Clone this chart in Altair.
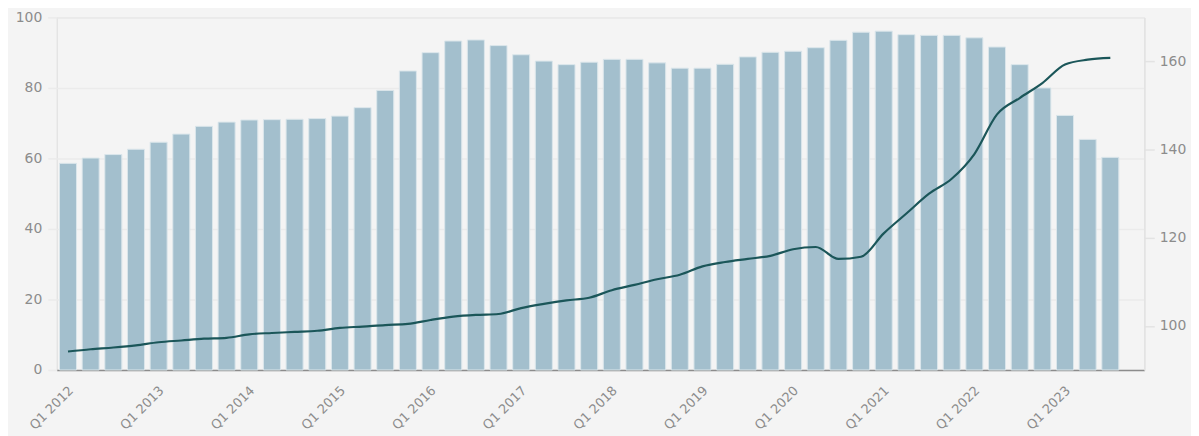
import altair as alt
import pandas as pd

# Quarter categories (Q1 2012 .. Q4 2023; last quarter has no data)
years = list(range(2012, 2024))
quarters_all = [f"Q{q} {y}" for y in years for q in (1, 2, 3, 4)]
q1_labels = [f"Q1 {y}" for y in years]

# Bar series (left axis)
bar_values = [
    58.6, 60.1, 61.1, 62.6, 64.6, 66.9, 69.1, 70.3, 70.9, 71.0, 71.1, 71.3,
    72.0, 74.4, 79.3, 84.8, 90.0, 93.3, 93.6, 92.0, 89.4, 87.6, 86.6, 87.3,
    88.1, 88.1, 87.1, 85.6, 85.6, 86.7, 88.8, 90.1, 90.4, 91.4, 93.5, 95.8,
    96.1, 95.1, 94.9, 94.9, 94.2, 91.6, 86.6, 80.0, 72.2, 65.4, 60.3,
]

# Line series (right axis)
line_values = [
    94.2, 94.7, 95.1, 95.6, 96.3, 96.7, 97.1, 97.3, 98.1, 98.4, 98.65, 98.9,
    99.55, 99.85, 100.2, 100.45, 101.35, 102.1, 102.5, 102.7, 104.05, 105.0, 105.8, 106.4,
    108.1, 109.3, 110.6, 111.6, 113.5, 114.5, 115.2, 115.9, 117.4, 117.9, 115.2, 115.7,
    121.0, 125.5, 130.0, 133.4, 139.0, 148.0, 151.7, 155.1, 159.3, 160.4, 160.8,
]

n = len(bar_values)
df = pd.DataFrame({
    "quarter": quarters_all[:n],
    "bar": bar_values,
    "line": line_values,
})

FONT = "DejaVu Sans"
LABEL_COLOR = "#8c8c8c"
GRID_COLOR = "#ebebeb"

x_enc = alt.X(
    "quarter:N",
    sort=quarters_all,
    scale=alt.Scale(domain=quarters_all, paddingInner=0.25, paddingOuter=0.125),
    axis=alt.Axis(
        values=q1_labels,
        labelAngle=-45,
        labelAlign="right",
        labelBaseline="top",
        labelOffset=-1,
        labelPadding=14,
        ticks=False,
        grid=False,
        domainColor="#8c8c8c",
        domainWidth=1.5,
        labelColor=LABEL_COLOR,
        labelFontSize=13,
        title=None,
    ),
)

bars = alt.Chart(df).mark_bar(
    color="#a3bfcd", stroke="#dbe6eb", strokeWidth=1
).encode(
    x=x_enc,
    y=alt.Y(
        "bar:Q",
        scale=alt.Scale(domain=[0, 100], nice=False),
        axis=alt.Axis(
            values=[0, 20, 40, 60, 80, 100],
            grid=True,
            gridColor=GRID_COLOR,
            gridWidth=1.5,
            tickColor=GRID_COLOR,
            tickSize=9,
            tickWidth=1.5,
            domain=False,
            labelColor=LABEL_COLOR,
            labelFontSize=14,
            labelPadding=6,
            title=None,
        ),
    ),
)

line = alt.Chart(df).mark_line(
    color="#1b5659", strokeWidth=2.2, interpolate="monotone"
).encode(
    x=x_enc,
    y=alt.Y(
        "line:Q",
        scale=alt.Scale(domain=[90, 170], nice=False, zero=False),
        axis=alt.Axis(
            orient="right",
            values=[100, 120, 140, 160],
            grid=False,
            domain=True,
            domainColor="#e3e3e3",
            domainWidth=1.5,
            tickColor="#e3e3e3",
            tickSize=10,
            tickWidth=1.5,
            labelColor=LABEL_COLOR,
            labelFontSize=14,
            labelPadding=5,
            title=None,
        ),
    ),
)

chart = (
    alt.layer(bars, line)
    .resolve_scale(y="independent")
    .properties(
        width=1095,
        height=355,
        background="#f4f4f4",
        autosize=alt.AutoSizeParams(type="none"),
        padding={"left": 49, "top": 8, "right": 47, "bottom": 65},
    )
    .configure_view(stroke=None)
    .configure(font=FONT)
)

chart.save("out.html", embed_options={"renderer": "svg", "actions": False})
